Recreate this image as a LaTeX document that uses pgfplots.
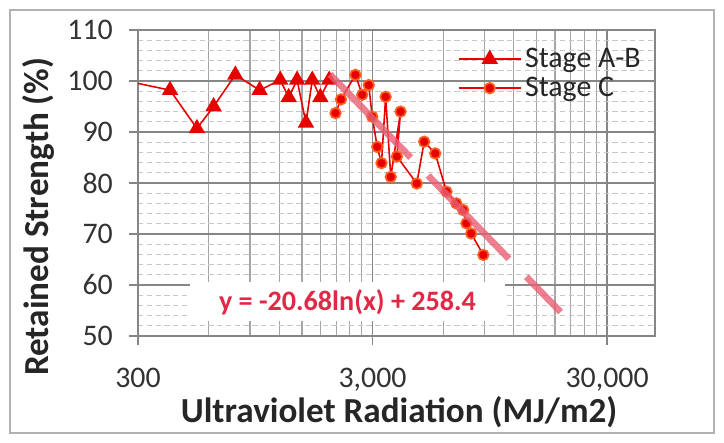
\documentclass[border=0pt]{standalone}
\usepackage{fontspec}
\setmainfont{Carlito}
\usepackage{pgfplots}
\pgfplotsset{compat=1.18}
\definecolor{serred}{RGB}{230,0,0}
\definecolor{mkorange}{RGB}{255,95,30}
\definecolor{trend}{RGB}{232,95,115}
\definecolor{eqred}{RGB}{225,40,70}
\definecolor{gridmaj}{RGB}{134,134,134}
\definecolor{gridmin}{RGB}{165,165,165}
\definecolor{griddash}{RGB}{200,200,200}

\begin{document}
\begin{tikzpicture}
\useasboundingbox (-2.76,-2.14) rectangle (11.72,6.72);
\draw[gray!60, line width=0.6pt] (-2.56,-1.94) rectangle (11.52,6.52);
\begin{axis}[
    scale only axis,
    width=10.34cm, height=6.12cm,
    xmode=log,
    xmin=300, xmax=48000, ymin=50, ymax=110,
    xtick={300,3000,30000},
    xticklabels={300,{3,000},{30,000}},
    minor xtick={600,900,1200,1500,1800,2100,2400,2700,6000,9000,12000,15000,18000,21000,24000,27000},
    ytick={50,60,...,110},
    minor ytick={52,54,...,108},
    grid=both,
    major grid style={gridmaj, line width=0.9pt},
    minor x grid style={gridmin, line width=0.7pt},
    minor y grid style={griddash, line width=0.5pt, dash pattern=on 3pt off 2pt},
    axis line style={gridmaj, line width=0.9pt},
    tick style={gridmaj, line width=0.8pt},
    tick align=outside,
    major tick length=0.18cm,
    minor tick length=0cm,
    xtick pos=lower, ytick pos=left,
    tick label style={font=\fontsize{17}{17}\selectfont, black!80},
    xticklabel style={yshift=-0.34cm},
    yticklabel style={xshift=-0.2cm},
    /pgf/number format/assume math mode=true,
    xlabel={Ultraviolet Radiation (MJ/m2)},
    ylabel={Retained Strength (\%)},
    label style={font=\bfseries\fontsize{20}{20}\selectfont, black!85},
    xlabel style={at={(axis description cs:0.505,-0.25)}, anchor=center},
    ylabel style={at={(axis description cs:-0.193,0.39)}, anchor=center},
    legend style={at={(0.608,0.965)}, anchor=north west, draw=none, fill=none,
        font=\fontsize{17}{17}\selectfont, row sep=0pt, text=black!85},
    legend cell align=left,
    legend image code/.code={
        \draw[mark repeat=2, mark phase=2, #1]
        plot coordinates {(0cm,0cm) (0.62cm,0cm) (1.24cm,0cm)};},
    clip marker paths=true,
]

\addplot[serred, line width=0.9pt, mark=triangle*, mark size=4.5pt,
    mark options={solid, fill=serred, draw=serred}] coordinates {
    (250,100.3) (411,98.2) (535,90.7) (630,95.0) (780,101.2) (990,98.2)
    (1212,100.2) (1317,96.8) (1430,100.2) (1560,91.8) (1660,100.2)
    (1797,96.8) (1960,100.2)
};
\addlegendentry{Stage A-B}

\addplot[serred, line width=0.9pt, mark=*, mark size=3pt,
    mark options={solid, fill=serred, draw=mkorange, line width=1pt}] coordinates {
    (2085,93.7) (2200,96.4) (2535,101.2) (2710,97.3) (2890,99.2)
    (2990,93.0) (3140,87.1) (3275,83.9) (3411,96.9) (3587,81.2)
    (3950,94.0) (3810,85.2) (4630,79.9) (4980,88.1) (5550,85.8)
    (6200,78.3) (6830,76.0) (7300,74.7) (7540,72.1) (7900,70.1) (8900,65.9)
};
\addlegendentry{Stage C}

\addplot[trend, line width=3.8pt, opacity=0.8, dash pattern=on 2.32cm off 0.5cm,
    forget plot] coordinates {(1975,101.3) (19000,54.7)};

\node[fill=white, text=eqred, font=\bfseries\fontsize{16}{16}\selectfont,
    minimum width=6.3cm, minimum height=0.78cm, inner sep=0pt]
    at (axis cs:2345,56.7) {y = -20.68ln(x) + 258.4};
\end{axis}
\end{tikzpicture}
\end{document}
